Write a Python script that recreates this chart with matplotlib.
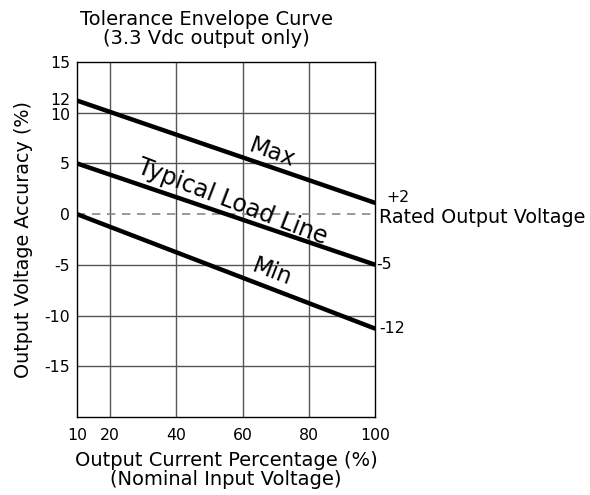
import matplotlib
matplotlib.use("Agg")
import matplotlib.pyplot as plt
import matplotlib.transforms as mtransforms

plt.rcParams['font.family'] = ['DejaVu Sans']

# Data
current_pct = [10, 100]
max_line = [11.2, 1.1]
typical_line = [5.0, -5.0]
min_line = [0.0, -11.3]

x_ticks = [10, 20, 40, 60, 80, 100]
x_tick_labels = ["10", "20", "40", "60", "80", "100"]
y_ticks = [15, 11.2, 10, 5, 0, -5, -10, -15]
y_tick_labels = ["15", "12", "10", "5", "0", "-5", "-10", "-15"]
grid_x = [20, 40, 60, 80]
grid_y = [10, 5, -5, -10, -15]
end_labels = ["+2", "-5", "-12"]

fig = plt.figure(figsize=(5.9, 4.95), dpi=100)
ax = fig.add_axes([0.1305, 0.1576, 0.5059, 0.7171])

ax.set_xlim(10, 100)
ax.set_ylim(-20, 15)

for gx in grid_x:
    ax.axvline(gx, color='#555555', lw=1.0, zorder=1)
for gy in grid_y:
    ax.axhline(gy, color='#555555', lw=1.0, zorder=1)
ax.axhline(0, color='#888888', lw=1.2, ls=(0, (5, 4)), zorder=1)

lw = 3.2
ax.plot(current_pct, max_line, color='black', lw=lw, solid_capstyle='butt', zorder=3)
ax.plot(current_pct, typical_line, color='black', lw=lw, solid_capstyle='butt', zorder=3)
ax.plot(current_pct, min_line, color='black', lw=lw, solid_capstyle='butt', zorder=3)

tick_fs = 11.3
ax.set_xticks(x_ticks)
ax.set_xticklabels(x_tick_labels, fontsize=tick_fs)
ax.set_yticks(y_ticks)
ax.set_yticklabels(y_tick_labels, fontsize=tick_fs)
ax.tick_params(axis='both', length=0)
ax.tick_params(axis='x', pad=8)
ax.tick_params(axis='y', pad=5)
for sp in ax.spines.values():
    sp.set_color('black')
    sp.set_linewidth(1.0)

# nudge the crowded 12 / 10 labels apart as in the reference
ylabels = ax.get_yticklabels()
ylabels[1].set_transform(ylabels[1].get_transform() + mtransforms.ScaledTranslation(0, 2/100, fig.dpi_scale_trans))
ylabels[2].set_transform(ylabels[2].get_transform() + mtransforms.ScaledTranslation(0, -1/100, fig.dpi_scale_trans))

# Line labels
ax.text(68.8, 6.0, "Max", rotation=-20, fontsize=16.5, ha='center', va='center', zorder=4)
ax.text(56.7, 1.2, "Typical Load Line", rotation=-21, fontsize=17, ha='center', va='center', zorder=4)
ax.text(68.8, -5.7, "Min", rotation=-21, fontsize=16.5, ha='center', va='center', zorder=4)

# Right side labels
ax.text(100, max_line[1], end_labels[0], fontsize=tick_fs, ha='left', va='center',
        transform=ax.transData + mtransforms.ScaledTranslation(11/100, 5/100, fig.dpi_scale_trans),
        clip_on=False)
ax.text(100, 0, "Rated Output Voltage", fontsize=13.8, ha='left', va='center',
        transform=ax.transData + mtransforms.ScaledTranslation(4/100, -3/100, fig.dpi_scale_trans),
        clip_on=False)
ax.text(100, typical_line[1], end_labels[1], fontsize=tick_fs, ha='left', va='center',
        transform=ax.transData + mtransforms.ScaledTranslation(1/100, 0, fig.dpi_scale_trans),
        clip_on=False)
ax.text(100, min_line[1], end_labels[2], fontsize=tick_fs, ha='left', va='center',
        transform=ax.transData + mtransforms.ScaledTranslation(4/100, 0, fig.dpi_scale_trans),
        clip_on=False)

ax.set_ylabel("Output Voltage Accuracy (%)", fontsize=13.8, labelpad=8)
ax.set_xlabel("Output Current Percentage (%)\n(Nominal Input Voltage)", fontsize=14,
              labelpad=6, linespacing=1.0)

fig.text(206/590, 1 - 29/495, "Tolerance Envelope Curve\n(3.3 Vdc output only)",
         ha='center', va='center', fontsize=14, linespacing=1.05)

fig.savefig("out.png", dpi=100, facecolor='white')
